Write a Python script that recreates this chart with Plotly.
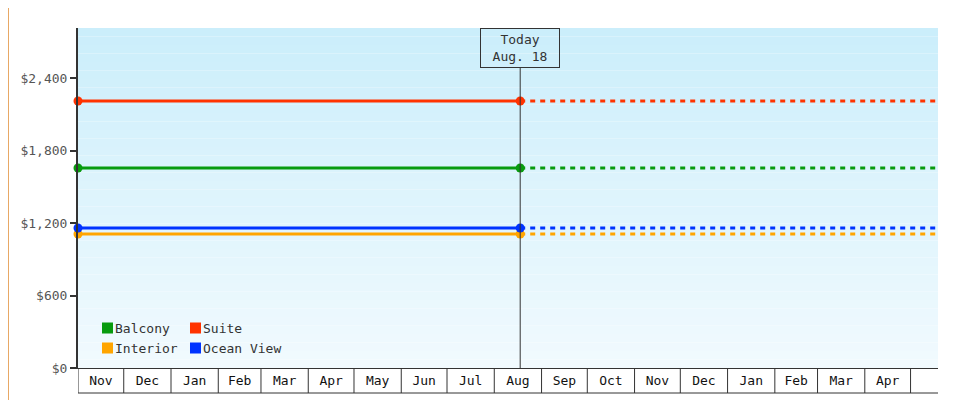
import plotly.graph_objects as go
import pandas as pd

series = ["Balcony", "Suite", "Interior", "Ocean View"]
colors = ["#089b0e", "#ff3300", "#ffa500", "#0033ff"]
prices = [1655, 2210, 1109, 1159]
start_date = "2024-11-01"
today_date = "2025-08-18"
future_end = "2026-06-01"
y_ticks = [0, 600, 1200, 1800, 2400]
y_labels = ["$0", "$600", "$1,200", "$1,800", "$2,400"]
months = ["2024-11-01", "2024-12-01", "2025-01-01", "2025-02-01", "2025-03-01", "2025-04-01",
          "2025-05-01", "2025-06-01", "2025-07-01", "2025-08-01", "2025-09-01", "2025-10-01",
          "2025-11-01", "2025-12-01", "2026-01-01", "2026-02-01", "2026-03-01", "2026-04-01", "2026-05-01"]
month_labels = ["Nov", "Dec", "Jan", "Feb", "Mar", "Apr", "May", "Jun", "Jul", "Aug", "Sep", "Oct",
                "Nov", "Dec", "Jan", "Feb", "Mar", "Apr"]

FONT = "DejaVu Sans Mono"
fig = go.Figure()

top = (203, 238, 251); bot = (241, 250, 254)
N = 40
for i in range(N):
    t = i / (N - 1)
    c = tuple(round(top[k] + (bot[k] - top[k]) * t) for k in range(3))
    fig.add_shape(type="rect", xref="paper", yref="paper", x0=0, x1=1,
                  y0=1 - (i + 1) / N, y1=1 - i / N, fillcolor="rgb(%d,%d,%d)" % c,
                  line_width=0, layer="below")

for name, col, p in zip(series, colors, prices):
    fig.add_trace(go.Scatter(x=[start_date, today_date], y=[p, p], mode="lines+markers",
                             line=dict(color=col, width=3), marker=dict(size=9, symbol="circle", color=col),
                             showlegend=False, cliponaxis=False, name=name))
    fig.add_trace(go.Scatter(x=[today_date, future_end], y=[p, p], mode="lines",
                             line=dict(color=col, width=3, dash="5px,5px"), showlegend=False, name=name))

fig.add_shape(type="line", xref="x", yref="paper", x0=today_date, x1=today_date, y0=0, y1=1 - 40 / 340,
              line=dict(color="#333", width=1))
fig.add_annotation(x=today_date, y=1, xref="x", yref="paper", yanchor="top", showarrow=False,
                   text="Today<br>Aug. 18", font=dict(family=FONT, size=13, color="#333"),
                   bordercolor="#333", borderwidth=1, borderpad=3, width=72, bgcolor="rgba(0,0,0,0)")

for m in months:
    fig.add_shape(type="line", xref="x", yref="paper", x0=m, x1=m, y0=0, y1=-25 / 340,
                  line=dict(color="#333", width=1))
fig.add_shape(type="line", xref="paper", yref="paper", x0=0, x1=1, y0=-25 / 340, y1=-25 / 340,
              line=dict(color="#333", width=1))

mids = [pd.Timestamp(a) + (pd.Timestamp(b) - pd.Timestamp(a)) / 2 for a, b in zip(months[:-1], months[1:])]

leg_pos = [(94, 320), (182, 320), (94, 340), (182, 340)]
for idx, name in enumerate(series):
    px, py = leg_pos[idx]
    x0 = (px - 70) / 860; y0 = (360 - py) / 340
    fig.add_shape(type="rect", xref="paper", yref="paper", x0=x0, x1=x0 + 11 / 860,
                  y0=y0 - 5.5 / 340, y1=y0 + 5.5 / 340, fillcolor=colors[idx], line_width=0)
    fig.add_annotation(x=x0 + 11 / 860, y=y0, xref="paper", yref="paper", xanchor="left", yanchor="middle",
                       showarrow=False, text=name, font=dict(family=FONT, size=13, color="#333"))

fig.add_shape(type="rect", xref="paper", yref="paper", x0=-69.5 / 860, x1=909.5 / 860,
              y0=-39.5 / 340, y1=379.5 / 340, line=dict(color="#e8a865", width=1))

fig.update_layout(width=980, height=400, margin=dict(l=70, r=50, t=20, b=40, autoexpand=False),
                  paper_bgcolor="white", plot_bgcolor="rgba(0,0,0,0)",
                  font=dict(family=FONT, size=13, color="#333"))
fig.update_xaxes(type="date", range=["2024-11-01", "2026-05-19"], tickvals=mids, ticktext=month_labels,
                 ticks="", showgrid=False, automargin=False,
                 showline=True, linecolor="#333", linewidth=1, zeroline=False,
                 tickfont=dict(family=FONT, size=13, color="#111"))
fig.update_yaxes(range=[0, 2814], tickvals=y_ticks, ticktext=y_labels, ticks="outside", automargin=False,
                 ticklen=6, tickcolor="#333", tickwidth=2, showgrid=False, showline=True,
                 linecolor="#333", linewidth=2, zeroline=False,
                 tickfont=dict(family=FONT, size=13, color="#555"))
fig.write_html("out.html")
